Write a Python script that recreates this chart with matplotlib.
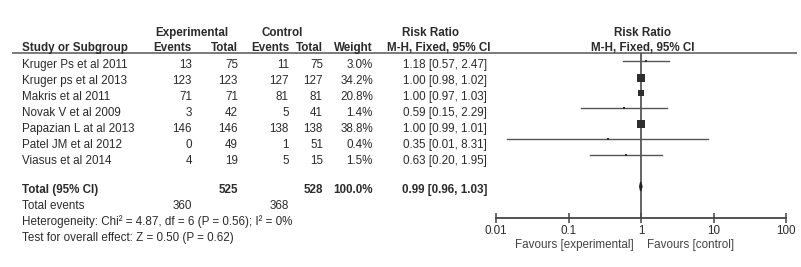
import matplotlib
matplotlib.use("Agg")
import matplotlib.pyplot as plt
import numpy as np

plt.rcParams['font.family'] = ['Liberation Sans', 'DejaVu Sans']

studies = ["Kruger Ps et al 2011", "Kruger ps et al 2013", "Makris et al 2011",
           "Novak V et al 2009", "Papazian L at al 2013", "Patel JM et al 2012",
           "Viasus et al 2014"]
exp_events = [13, 123, 71, 3, 146, 0, 4]
exp_total = [75, 123, 71, 42, 146, 49, 19]
ctrl_events = [11, 127, 81, 5, 138, 1, 5]
ctrl_total = [75, 127, 81, 41, 138, 51, 15]
weights = [3.0, 34.2, 20.8, 1.4, 38.8, 0.4, 1.5]
rr = [1.18, 1.00, 1.00, 0.59, 1.00, 0.35, 0.63]
ci_low = [0.57, 0.98, 0.97, 0.15, 0.99, 0.014, 0.20]
ci_high = [2.47, 1.02, 1.03, 2.29, 1.01, 8.31, 1.95]
total_exp, total_ctrl = 525, 528
total_weight = 100.0
events_exp, events_ctrl = 360, 368
total_rr, total_low, total_high = 0.99, 0.96, 1.03
tick_vals = [0.01, 0.1, 1, 10, 100]
tick_labels = ["0.01", "0.1", "1", "10", "100"]

W, H = 801, 267
fig = plt.figure(figsize=(W / 100, H / 100), dpi=100)
bg = fig.add_axes([0, 0, 1, 1])
bg.set_xlim(0, W)
bg.set_ylim(H, 0)
bg.axis('off')

FS = 8.4
TC = '#2b2b2b'

def t(x, y, s, ha='left', bold=False, color=TC, fs=FS):
    bg.text(x, y, s, ha=ha, va='baseline', fontsize=fs, color=color,
            fontweight='bold' if bold else 'normal')

# headers
t(192, 36, "Experimental", ha='center', bold=True)
t(282, 36, "Control", ha='center', bold=True)
t(431, 36, "Risk Ratio", ha='center', bold=True)
t(642, 36, "Risk Ratio", ha='center', bold=True)
t(22, 51, "Study or Subgroup", bold=True)
t(192, 51, "Events", ha='right', bold=True)
t(238, 51, "Total", ha='right', bold=True)
t(289, 51, "Events", ha='right', bold=True)
t(323, 51, "Total", ha='right', bold=True)
t(373, 51, "Weight", ha='right', bold=True)
t(439, 51, "M-H, Fixed, 95% CI", ha='center', bold=True)
t(643, 51, "M-H, Fixed, 95% CI", ha='center', bold=True)
bg.plot([12, 797], [52.5, 52.5], color='#7a7a7a', lw=1.4, solid_capstyle='butt')

row_base = [68, 84, 100, 116, 132, 148, 164]
for i, name in enumerate(studies):
    y = row_base[i]
    t(22, y, name)
    t(192, y, str(exp_events[i]), ha='right')
    t(238, y, str(exp_total[i]), ha='right')
    t(289, y, str(ctrl_events[i]), ha='right')
    t(323, y, str(ctrl_total[i]), ha='right')
    t(373, y, f"{weights[i]:.1f}%", ha='right')
    t(487, y, f"{rr[i]:.2f} [{ci_low[i]:.2f}, {ci_high[i]:.2f}]", ha='right')

t(22, 193, "Total (95% CI)", bold=True)
t(238, 193, str(total_exp), ha='right', bold=True)
t(323, 193, str(total_ctrl), ha='right', bold=True)
t(373, 193, f"{total_weight:.1f}%", ha='right', bold=True)
t(487, 193, f"{total_rr:.2f} [{total_low:.2f}, {total_high:.2f}]", ha='right', bold=True)
t(22, 209, "Total events")
t(192, 209, str(events_exp), ha='right')
t(289, 209, str(events_ctrl), ha='right')
t(22, 225, "Heterogeneity: Chi² = 4.87, df = 6 (P = 0.56); I² = 0%")
t(22, 241, "Test for overall effect: Z = 0.50 (P = 0.62)")

t(634, 248, "Favours [experimental]", ha='right', color='#444444')
t(647, 248, "Favours [control]", ha='left', color='#444444')

# forest axes
x0, x1 = 496, 786
ytop, ybot = 52.5, 218
fa = fig.add_axes([x0 / W, (H - ybot) / H, (x1 - x0) / W, (ybot - ytop) / H])
fa.patch.set_alpha(0)
fa.set_xscale('log')
fa.set_xlim(0.01, 100)
fa.set_ylim(ybot, ytop)
for s in ['left', 'right', 'top']:
    fa.spines[s].set_visible(False)
fa.spines['bottom'].set_color('#444444')
fa.spines['bottom'].set_linewidth(1.3)
fa.set_yticks([])
fa.set_xticks(tick_vals)
fa.set_xticklabels(tick_labels)
fa.minorticks_off()
fa.tick_params(axis='x', direction='inout', length=7, width=1.1, color='#444444',
               labelsize=FS, labelcolor=TC, pad=1.5)

fa.axvline(1, color='#4a4a4a', lw=1.2, zorder=2)

forest_y = [61, 77.5, 93, 108, 124, 139, 154.5]
for i in range(len(studies)):
    y = forest_y[i]
    fa.plot([ci_low[i], ci_high[i]], [y, y], color='#555555', lw=1.0, zorder=3)
    side_px = max(2.2, 0.516 * weights[i] ** 0.75)
    fa.plot([rr[i]], [y], marker='s', markersize=side_px * 0.72, color='#2e2e2e',
            markeredgewidth=0, zorder=4)

dy = 186.5
fa.fill([total_low, total_rr, total_high, total_rr], [dy, dy - 4.5, dy, dy + 4.5],
        color='#222222', zorder=5)

fig.savefig("out.png", dpi=100)
